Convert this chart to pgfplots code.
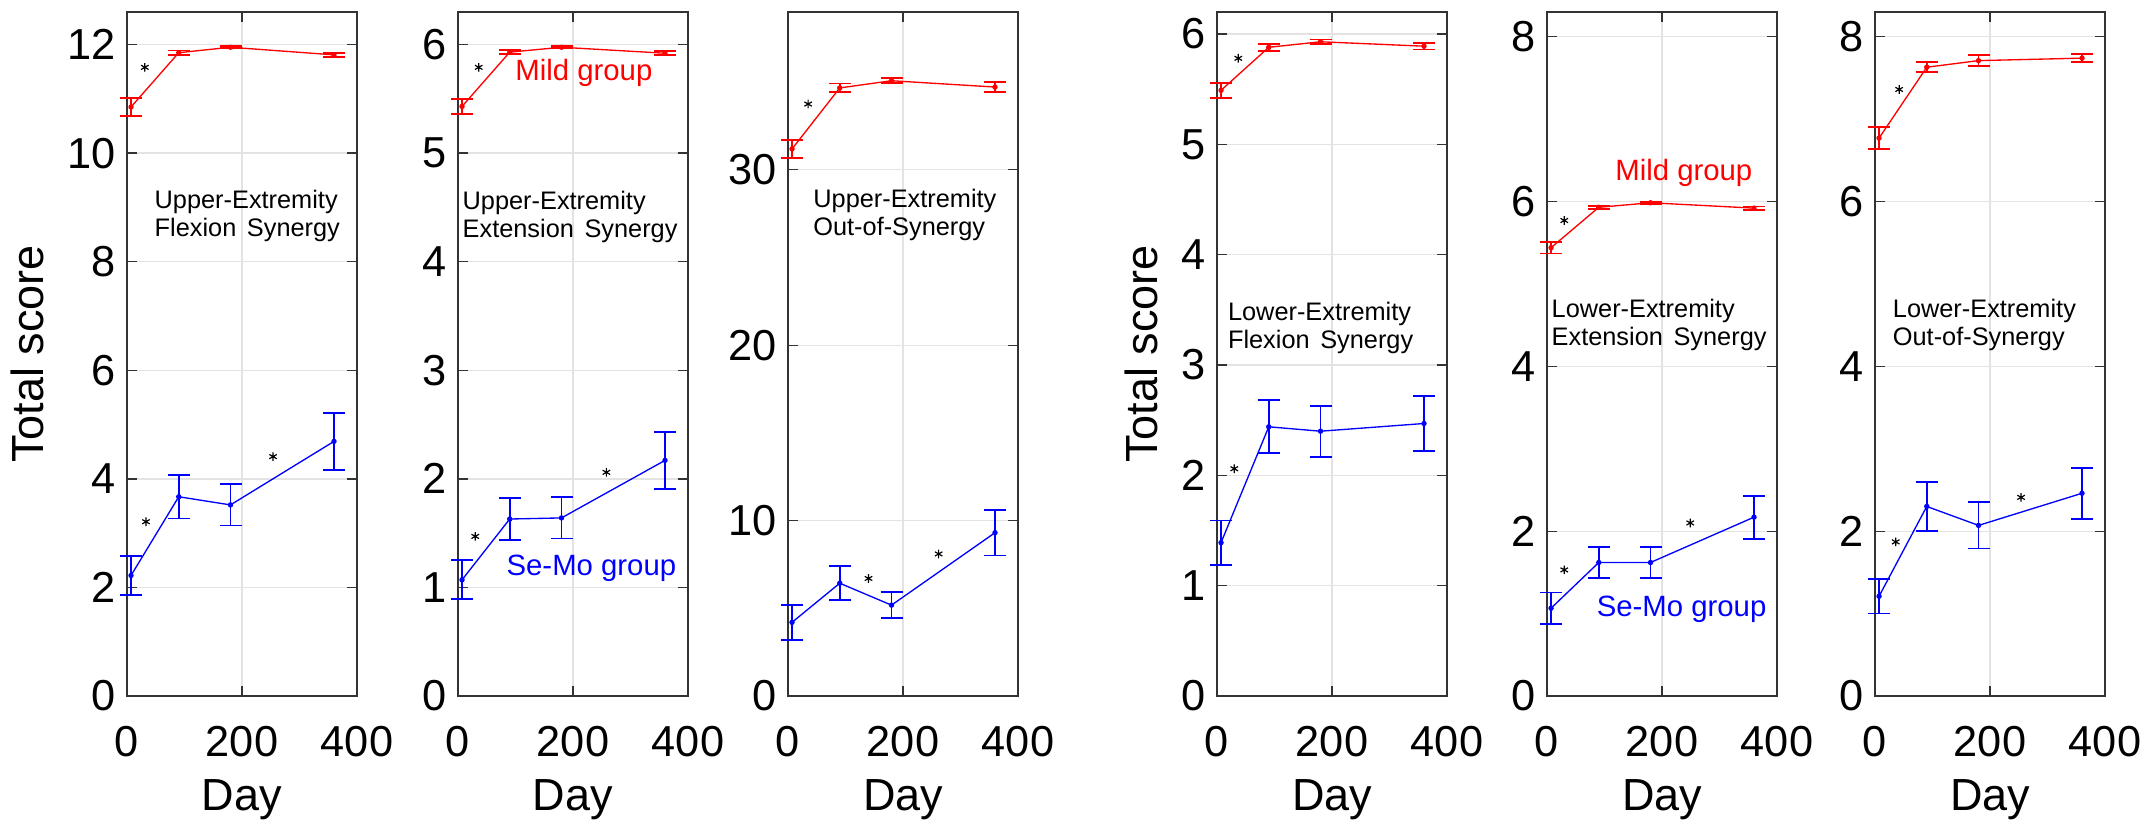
\documentclass[border=0pt]{standalone}
\usepackage{fontspec}
\setmainfont{Liberation Sans}
\usepackage{pgfplots}
\pgfplotsset{compat=1.18}

% 1 px of the reference = 0.3pt
\pgfplotsset{
  panel/.style={
    anchor=south west,
    scale only axis, width=69pt, height=205.2pt,
    xmin=0, xmax=400, xtick={0,200,400}, ymin=0,
    grid=major, major grid style={gray!22, line width=0.4pt},
    axis line style={black!80, line width=0.5pt},
    tick align=inside, major tick length=3pt, tick style={black!80, line width=0.4pt},
    /pgf/number format/assume math mode=true,
    ticklabel style={font=\fontsize{13}{15}\selectfont},
    xticklabel style={yshift=-5.5pt},
    label style={font=\fontsize{13.5}{16}\selectfont},
    xlabel={Day},
    clip=false,
  },
  grp/.style={
    color=#1, line width=0.4pt, mark=*, mark size=0.6pt,
    error bars/.cd, y dir=both, y explicit,
    error bar style={line width=0.55pt, #1},
    error mark options={rotate=90, mark size=3.3pt, line width=0.55pt, #1},
  },
  star/.style={only marks, mark=asterisk, mark size=1.3pt, black, mark options={line width=0.35pt}},
}
\newcommand{\lab}{\fontsize{7.6}{8.4}\selectfont}
\newcommand{\glab}{\fontsize{8.8}{10}\selectfont}
\newcommand{\gap}{\hspace{0.42em}}

\begin{document}
\begin{tikzpicture}
\path[use as bounding box] (0,0) rectangle (644.4pt,247.8pt);

% Upper-Extremity Flexion Synergy
\begin{axis}[panel, at={(38.1pt,39pt)}, ymax=12.6, ytick={0,2,4,6,8,10,12}, ylabel={Total score}]
\addplot[grp=red] coordinates {(7,10.85) +- (0,0.16) (90,11.85) +- (0,0.04) (180,11.95) +- (0,0.02) (360,11.81) +- (0,0.04)};
\addplot[grp=blue] coordinates {(7,2.22) +- (0,0.36) (90,3.67) +- (0,0.40) (180,3.52) +- (0,0.38) (360,4.69) +- (0,0.52)};
\addplot[star] coordinates {(31,11.58) (33,3.21) (254,4.41)};
\node[anchor=west, align=left, font=\lab, inner sep=0pt] at (axis cs:47,8.84) {Upper-Extremity\\Flexion\gap Synergy};
\end{axis}

% Upper-Extremity Extension Synergy
\begin{axis}[panel, at={(137.4pt,39pt)}, ymax=6.3, ytick={0,1,2,3,4,5,6}]
\addplot[grp=red] coordinates {(7,5.43) +- (0,0.07) (90,5.93) +- (0,0.02) (180,5.975) +- (0,0.01) (360,5.92) +- (0,0.02)};
\addplot[grp=blue] coordinates {(7,1.07) +- (0,0.18) (90,1.63) +- (0,0.19) (180,1.64) +- (0,0.19) (360,2.17) +- (0,0.26)};
\addplot[star] coordinates {(36,5.79) (30,1.47) (258,2.06)};
\node[anchor=west, align=left, font=\lab, inner sep=0pt] at (axis cs:7,4.41) {Upper-Extremity\\Extension\gap Synergy};
\node[font=\glab, text=red, inner sep=0pt] at (axis cs:219,5.74) {Mild group};
\node[font=\glab, text=blue, inner sep=0pt] at (axis cs:232,1.18) {Se-Mo group};
\end{axis}

% Upper-Extremity Out-of-Synergy
\begin{axis}[panel, at={(236.4pt,39pt)}, ymax=39, ytick={0,10,20,30}]
\addplot[grp=red] coordinates {(7,31.19) +- (0,0.5) (90,34.67) +- (0,0.25) (180,35.08) +- (0,0.15) (360,34.72) +- (0,0.3)};
\addplot[grp=blue] coordinates {(7,4.2) +- (0,1.0) (90,6.43) +- (0,0.98) (180,5.18) +- (0,0.75) (360,9.31) +- (0,1.3)};
\addplot[star] coordinates {(35,33.75) (140,6.7) (262,8.1)};
\node[anchor=west, align=left, font=\lab, inner sep=0pt] at (axis cs:43,27.4) {Upper-Extremity\\Out-of-Synergy};
\end{axis}

% Lower-Extremity Flexion Synergy
\begin{axis}[panel, at={(365.1pt,39pt)}, ymax=6.2, ytick={0,1,2,3,4,5,6}, ylabel={Total score}]
\addplot[grp=red] coordinates {(7,5.49) +- (0,0.07) (90,5.88) +- (0,0.03) (180,5.93) +- (0,0.02) (360,5.89) +- (0,0.03)};
\addplot[grp=blue] coordinates {(7,1.39) +- (0,0.2) (90,2.44) +- (0,0.24) (180,2.40) +- (0,0.23) (360,2.47) +- (0,0.25)};
\addplot[star] coordinates {(37,5.78) (30,2.06)};
\node[anchor=west, align=left, font=\lab, inner sep=0pt] at (axis cs:18,3.34) {Lower-Extremity\\Flexion\gap Synergy};
\end{axis}

% Lower-Extremity Extension Synergy
\begin{axis}[panel, at={(464.1pt,39pt)}, ymax=8.3, ytick={0,2,4,6,8}]
\addplot[grp=red] coordinates {(7,5.44) +- (0,0.07) (90,5.93) +- (0,0.02) (180,5.985) +- (0,0.01) (360,5.92) +- (0,0.02)};
\addplot[grp=blue] coordinates {(7,1.065) +- (0,0.19) (90,1.62) +- (0,0.19) (180,1.62) +- (0,0.19) (360,2.17) +- (0,0.26)};
\addplot[star] coordinates {(30,5.77) (30,1.53) (249,2.10)};
\node[anchor=west, align=left, font=\lab, inner sep=0pt] at (axis cs:7,4.50) {Lower-Extremity\\Extension\gap Synergy};
\node[font=\glab, text=red, inner sep=0pt] at (axis cs:238,6.35) {Mild group};
\node[font=\glab, text=blue, inner sep=0pt] at (axis cs:234,1.05) {Se-Mo group};
\end{axis}

% Lower-Extremity Out-of-Synergy
\begin{axis}[panel, at={(562.5pt,39pt)}, ymax=8.3, ytick={0,2,4,6,8}]
\addplot[grp=red] coordinates {(7,6.77) +- (0,0.13) (90,7.63) +- (0,0.06) (180,7.71) +- (0,0.065) (360,7.74) +- (0,0.05)};
\addplot[grp=blue] coordinates {(7,1.21) +- (0,0.21) (90,2.30) +- (0,0.3) (180,2.07) +- (0,0.28) (360,2.46) +- (0,0.31)};
\addplot[star] coordinates {(42,7.36) (36,1.87) (254,2.41)};
\node[anchor=west, align=left, font=\lab, inner sep=0pt] at (axis cs:30,4.50) {Lower-Extremity\\Out-of-Synergy};
\end{axis}
\end{tikzpicture}
\end{document}
